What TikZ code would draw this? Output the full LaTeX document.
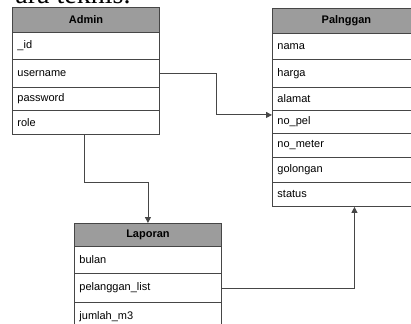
\documentclass[tikz,border=0pt]{standalone}
\usepackage{fontspec}
\setmainfont{Liberation Serif}
\setsansfont{Liberation Sans}
\usetikzlibrary{arrows.meta}
\definecolor{hdrgray}{RGB}{156,156,156}
\definecolor{linegray}{RGB}{70,70,70}

\begin{document}
\begin{tikzpicture}[x=1pt, y=-1pt, line width=0.9pt,
    hdr/.style={draw=linegray, fill=hdrgray, anchor=north west, inner sep=0pt,
                font=\sffamily\bfseries\fontsize{11}{13}\selectfont},
    fld/.style={draw=linegray, fill=white, anchor=north west, inner xsep=5pt,
                inner ysep=0pt, align=left, text width=#1,
                font=\sffamily\fontsize{11}{13}\selectfont},
    link/.style={draw=linegray, -{Triangle[length=6pt,width=6pt]}}]

  \clip[use as bounding box] (0,0) rectangle (411,323);

  \node[anchor=base east, inner sep=0pt, font=\fontsize{28}{30}\selectfont] (head) at (131,3.5) {ara teknis.};

  % Admin
  \node[hdr, minimum width=147, minimum height=25] (admin) at (12,7) {Admin};
  \node[fld=137pt, minimum height=27] (aid) at (12,32) {\_id};
  \node[fld=137pt, minimum height=28] (usr) at (12,59) {username};
  \node[fld=137pt, minimum height=23] (pwd) at (12,87) {password};
  \node[fld=137pt, minimum height=24] (role) at (12,110) {role};

  % Palnggan
  \node[hdr, minimum width=148, minimum height=25] (plg) at (272,8) {Palnggan};
  \node[fld=138pt, minimum height=26] (nama) at (272,33) {nama};
  \node[fld=138pt, minimum height=28] (harga) at (272,59) {harga};
  \node[fld=138pt, minimum height=23] (alamat) at (272,87) {alamat};
  \node[fld=138pt, minimum height=23] (nopel) at (272,110) {no\_pel};
  \node[fld=138pt, minimum height=24] (nometer) at (272,133) {no\_meter};
  \node[fld=138pt, minimum height=25] (gol) at (272,157) {golongan};
  \node[fld=138pt, minimum height=24] (status) at (272,182) {status};

  % Laporan
  \node[hdr, minimum width=147, minimum height=23] (lap) at (74,223) {Laporan};
  \node[fld=137pt, minimum height=27] (bulan) at (74,246) {bulan};
  \node[fld=137pt, minimum height=29] (plist) at (74,273) {pelanggan\_list};
  \node[fld=137pt, minimum height=28] (jml) at (74,302) {jumlah\_m3};

  \draw[link] (usr.east) -- ++(57,0) |- ([yshift=7pt]nopel.west);
  \draw[link] ([xshift=-2pt]role.south) -- ++(0,48) -| (lap.north);
  \draw[link] (plist.east) -| ([xshift=8pt]status.south);

\end{tikzpicture}
\end{document}
